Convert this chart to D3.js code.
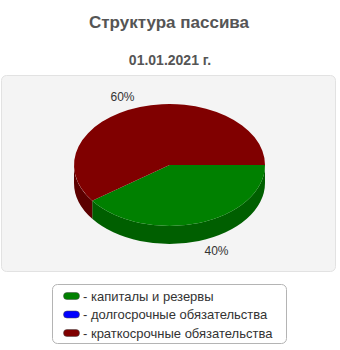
<!DOCTYPE html>
<html>
<head>
<meta charset="utf-8">
<script src="https://cdn.jsdelivr.net/npm/d3@7"></script>
<style>
  body { margin: 0; background: #fff; }
  svg { display: block; font-family: Arial, "Liberation Sans", sans-serif; }
</style>
</head>
<body>
<svg id="drawing_region"></svg>
<script>
const categories = ['капиталы и резервы', 'долгосрочные обязательства', 'краткосрочные обязательства'];
const values = [40, 0, 60];
const labels = ['40%', '', '60%'];
const colors = ['#008000', '#0000ff', '#800000'];
const sideColors = ['#005f00', '#0000b0', '#5c0000'];

const data = categories.map((c, i) => ({ name: c, value: values[i], label: labels[i], color: colors[i], side: sideColors[i] }));

draw(data);

function draw(data) {

    const width  = 340;
    const height = 350;

    const svg = d3.select('#drawing_region')
        .attr('width', width)
        .attr('height', height);

    svg.append('text')
        .attr('x', 169)
        .attr('y', 28)
        .attr('text-anchor', 'middle')
        .attr('font-size', '17px')
        .attr('font-weight', 'bold')
        .attr('fill', '#555')
        .text('Структура пассива');

    svg.append('text')
        .attr('x', 170)
        .attr('y', 65)
        .attr('text-anchor', 'middle')
        .attr('font-size', '14px')
        .attr('font-weight', 'bold')
        .attr('fill', '#555')
        .text('01.01.2021 г.');

    // plot panel
    svg.append('rect')
        .attr('x', 1.5).attr('y', 75.5)
        .attr('width', 334).attr('height', 196)
        .attr('rx', 5)
        .attr('fill', '#f4f4f4')
        .attr('stroke', '#e2e2e2');

    const cx = 169.5, cy = 165;
    const rx = 95.5, ry = 61;
    const depth = 18;

    const pie = d3.pie()
        .value(d => d.value)
        .sort(null)
        .startAngle(Math.PI / 2)
        .endAngle(Math.PI / 2 + 2 * Math.PI);

    const arcs = pie(data).filter(d => d.data.value > 0);

    const px = a => cx + rx * Math.sin(a);
    const py = a => cy - ry * Math.cos(a);

    const chart = svg.append('g');

    // front side walls (screen lower half: a in [PI/2, 3PI/2])
    function wall(d) {
        const a0 = Math.max(d.startAngle, Math.PI / 2);
        const a1 = Math.min(d.endAngle, 3 * Math.PI / 2);
        if (a1 <= a0) return null;
        const large = (a1 - a0) > Math.PI ? 1 : 0;
        return `M${px(a0)},${py(a0)}`
            + `A${rx},${ry} 0 ${large} 1 ${px(a1)},${py(a1)}`
            + `L${px(a1)},${py(a1) + depth}`
            + `A${rx},${ry} 0 ${large} 0 ${px(a0)},${py(a0) + depth}Z`;
    }

    chart.selectAll('path.side')
        .data(arcs.filter(d => wall(d)))
        .enter()
        .append('path')
        .attr('class', 'side')
        .attr('d', wall)
        .attr('fill', d => d.data.side);

    function top(d) {
        const a0 = d.startAngle, a1 = d.endAngle;
        const large = (a1 - a0) > Math.PI ? 1 : 0;
        return `M${cx},${cy}L${px(a0)},${py(a0)}`
            + `A${rx},${ry} 0 ${large} 1 ${px(a1)},${py(a1)}Z`;
    }

    chart.selectAll('path.top')
        .data(arcs)
        .enter()
        .append('path')
        .attr('class', 'top')
        .attr('d', top)
        .attr('fill', d => d.data.color);

    // percentage labels
    const lrx = 152, lry = 72;
    chart.selectAll('text.lbl')
        .data(arcs)
        .enter()
        .append('text')
        .attr('class', 'lbl')
        .attr('x', d => cx + lrx * Math.sin((d.startAngle + d.endAngle) / 2))
        .attr('y', d => {
            const m = (d.startAngle + d.endAngle) / 2;
            const y = cy - lry * Math.cos(m);
            return (y > cy ? y + depth : y) + 4;
        })
        .attr('text-anchor', 'middle')
        .attr('font-size', '12px')
        .attr('fill', '#333')
        .text(d => d.data.label);

    // legend
    const legend = svg.append('g');

    legend.append('rect')
        .attr('x', 52.5).attr('y', 284.5)
        .attr('width', 234).attr('height', 59)
        .attr('rx', 5)
        .attr('fill', '#fff')
        .attr('stroke', '#b4b4b4');

    const rowY = d3.scalePoint()
        .domain(categories)
        .range([296, 333]);

    const items = legend.selectAll('g.item')
        .data(data)
        .enter()
        .append('g')
        .attr('class', 'item')
        .attr('transform', d => `translate(0, ${rowY(d.name)})`);

    items.append('rect')
        .attr('x', 63.5).attr('y', -3.5)
        .attr('width', 16).attr('height', 7)
        .attr('rx', 3.5)
        .attr('fill', d => d.color)
        .attr('stroke', '#444')
        .attr('stroke-width', 0.5);

    items.append('text')
        .attr('x', 83)
        .attr('y', 4.5)
        .attr('font-size', '13px')
        .attr('fill', '#333')
        .text(d => '- ' + d.name);
}
</script>
</body>
</html>
